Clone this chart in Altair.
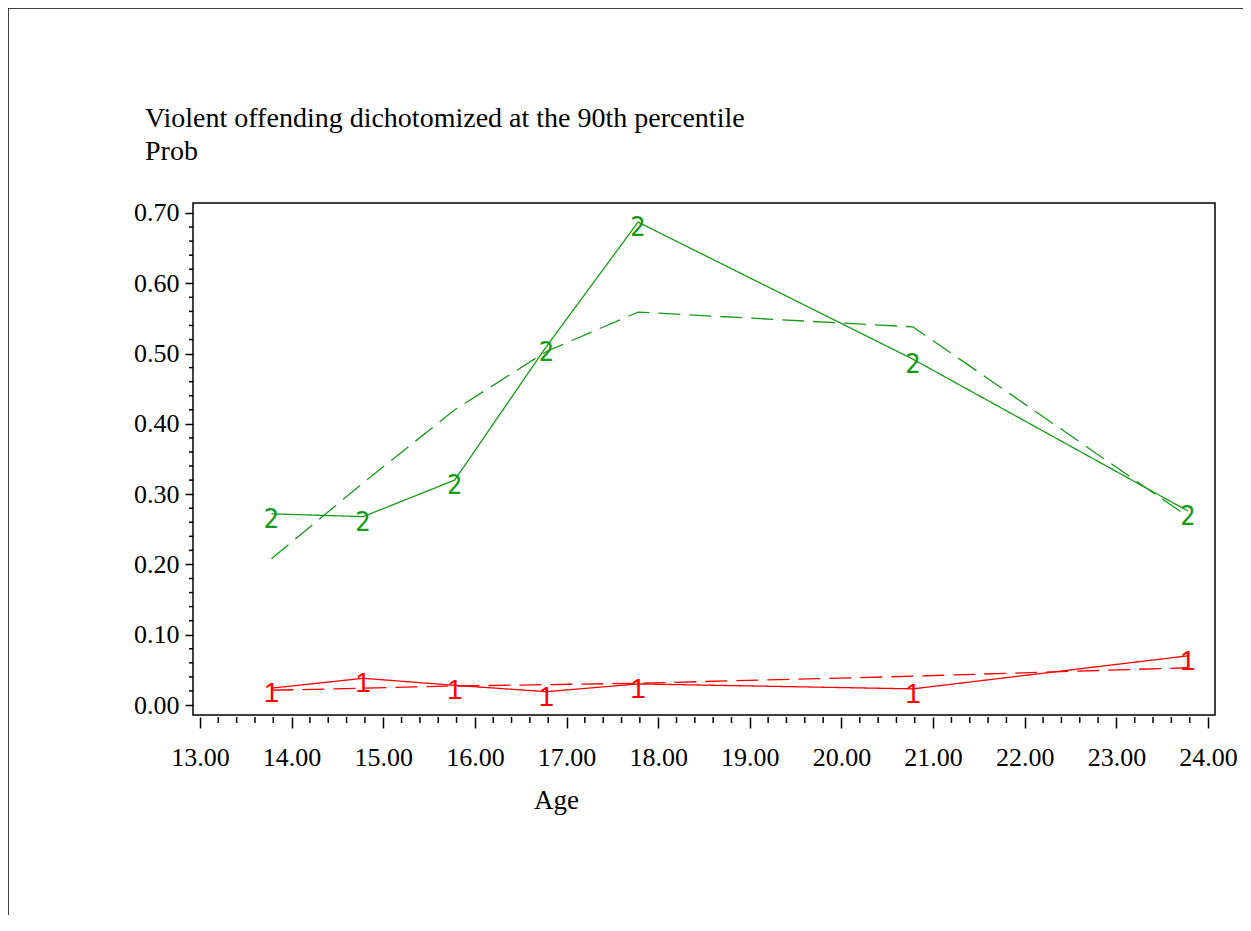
import altair as alt
import pandas as pd

# ---------------- data ----------------
ages = [13.78, 14.78, 15.78, 16.78, 17.78, 20.78, 23.78]
obs_group1 = [0.024, 0.038, 0.028, 0.019, 0.030, 0.023, 0.070]
pred_group1 = [0.021, 0.024, 0.027, 0.029, 0.031, 0.041, 0.053]
obs_group2 = [0.272, 0.268, 0.320, 0.510, 0.687, 0.492, 0.276]
pred_group2 = [0.208, 0.316, 0.420, 0.503, 0.559, 0.538, 0.268]

title_lines = ["Violent offending dichotomized at the 90th percentile", "Prob"]
x_title = "Age"
x_major = [13, 14, 15, 16, 17, 18, 19, 20, 21, 22, 23, 24]
y_major = [0.0, 0.1, 0.2, 0.3, 0.4, 0.5, 0.6, 0.7]
x_minor = [round(13 + i * 0.2, 2) for i in range(1, 55) if i % 5 != 0]
y_minor = [round(j * 0.02, 2) for j in range(1, 35) if j % 5 != 0]

RED = "#ff0000"
GREEN = "#169a16"
SERIF = "Liberation Serif"

rows = []
for g, obs, pred in (("1", obs_group1, pred_group1), ("2", obs_group2, pred_group2)):
    for a, o, p in zip(ages, obs, pred):
        rows.append({"age": a, "prob": o, "group": g, "kind": "obs"})
        rows.append({"age": a, "prob": p, "group": g, "kind": "pred"})
df = pd.DataFrame(rows)
df_obs1 = df[(df["kind"] == "obs") & (df["group"] == "1")]
df_obs2 = df[(df["kind"] == "obs") & (df["group"] == "2")]

W, H = 1022, 512

xscale = alt.Scale(domain=[12.924, 24.076], nice=False, zero=False)
yscale = alt.Scale(domain=[-0.0142, 0.7142], nice=False, zero=False)

x_enc = alt.X(
    "age:Q",
    scale=xscale,
    axis=alt.Axis(
        values=x_major, format=".2f", title=x_title, grid=False, domain=False,
        tickSize=11, tickWidth=1.5, tickColor="black", offset=2,
        labelFont=SERIF, labelFontSize=26, labelColor="black", labelPadding=16,
        labelFlush=False, labelOverlap=False,
        titleFont=SERIF, titleFontSize=27, titleFontWeight="normal", titleColor="black",
        titleX=363, titleY=91, titleBaseline="alphabetic", titleAlign="center",
    ),
)
y_enc = alt.Y(
    "prob:Q",
    scale=yscale,
    axis=alt.Axis(
        values=y_major, format=".2f", title=None, grid=False, domain=False,
        tickSize=8, tickWidth=1.5, tickColor="black",
        labelFont=SERIF, labelFontSize=26, labelColor="black", labelPadding=6,
        labelFlush=False, labelOverlap=False,
    ),
)

color_enc = alt.Color("group:N", scale=alt.Scale(domain=["1", "2"], range=[RED, GREEN]), legend=None)

lines = alt.Chart(df).mark_line(strokeWidth=1.3).encode(
    x=x_enc,
    y=y_enc,
    color=color_enc,
    strokeDash=alt.StrokeDash(
        "kind:N", scale=alt.Scale(domain=["obs", "pred"], range=[[1, 0], [22, 9]]), legend=None
    ),
    order="age:Q",
)

markers1 = alt.Chart(df_obs1).mark_text(
    font="Liberation Sans", fontSize=28, baseline="alphabetic", align="center", dy=14
).encode(x="age:Q", y="prob:Q", text="group:N", color=color_enc)

markers2 = alt.Chart(df_obs2).mark_text(
    font="'DejaVu Sans Condensed', 'Liberation Sans', sans-serif", fontSize=27,
    baseline="alphabetic", align="center", dy=14
).encode(x="age:Q", y="prob:Q", text="group:N", color=color_enc)

xminor_rules = alt.Chart(pd.DataFrame({"age": x_minor})).mark_rule(
    color="black", strokeWidth=1.5
).encode(x="age:Q", y=alt.value(H + 2), y2=alt.value(H + 8))

yminor_rules = alt.Chart(pd.DataFrame({"prob": y_minor})).mark_rule(
    color="black", strokeWidth=1.5
).encode(y="prob:Q", x=alt.value(-4), x2=alt.value(0))

single = pd.DataFrame({"k": [0]})
title1 = alt.Chart(single).mark_text(
    font=SERIF, fontSize=28, align="left", baseline="alphabetic", color="black"
).encode(x=alt.value(-48), y=alt.value(-76), text=alt.value(title_lines[0]))
title2 = alt.Chart(single).mark_text(
    font=SERIF, fontSize=28, align="left", baseline="alphabetic", color="black"
).encode(x=alt.value(-48), y=alt.value(-43), text=alt.value(title_lines[1]))

left_border = alt.Chart(single).mark_rule(color="black", strokeWidth=1.5).encode(
    x=alt.value(-185), y=alt.value(-195), y2=alt.value(H + 210)
)
top_border = alt.Chart(single).mark_rule(color="black", strokeWidth=1.5).encode(
    y=alt.value(-195), x=alt.value(-185), x2=alt.value(W + 40)
)

chart = (
    alt.layer(lines, markers1, markers2, xminor_rules, yminor_rules,
              title1, title2, left_border, top_border)
    .properties(
        width=W,
        height=H,
        autosize=alt.AutoSizeParams(type="none"),
        padding={"left": 185, "top": 195, "right": 28, "bottom": 200},
        background="white",
    )
    .configure_view(stroke="black", strokeWidth=1.5)
)

chart.save("out.html", embed_options={"renderer": "svg", "actions": False})
